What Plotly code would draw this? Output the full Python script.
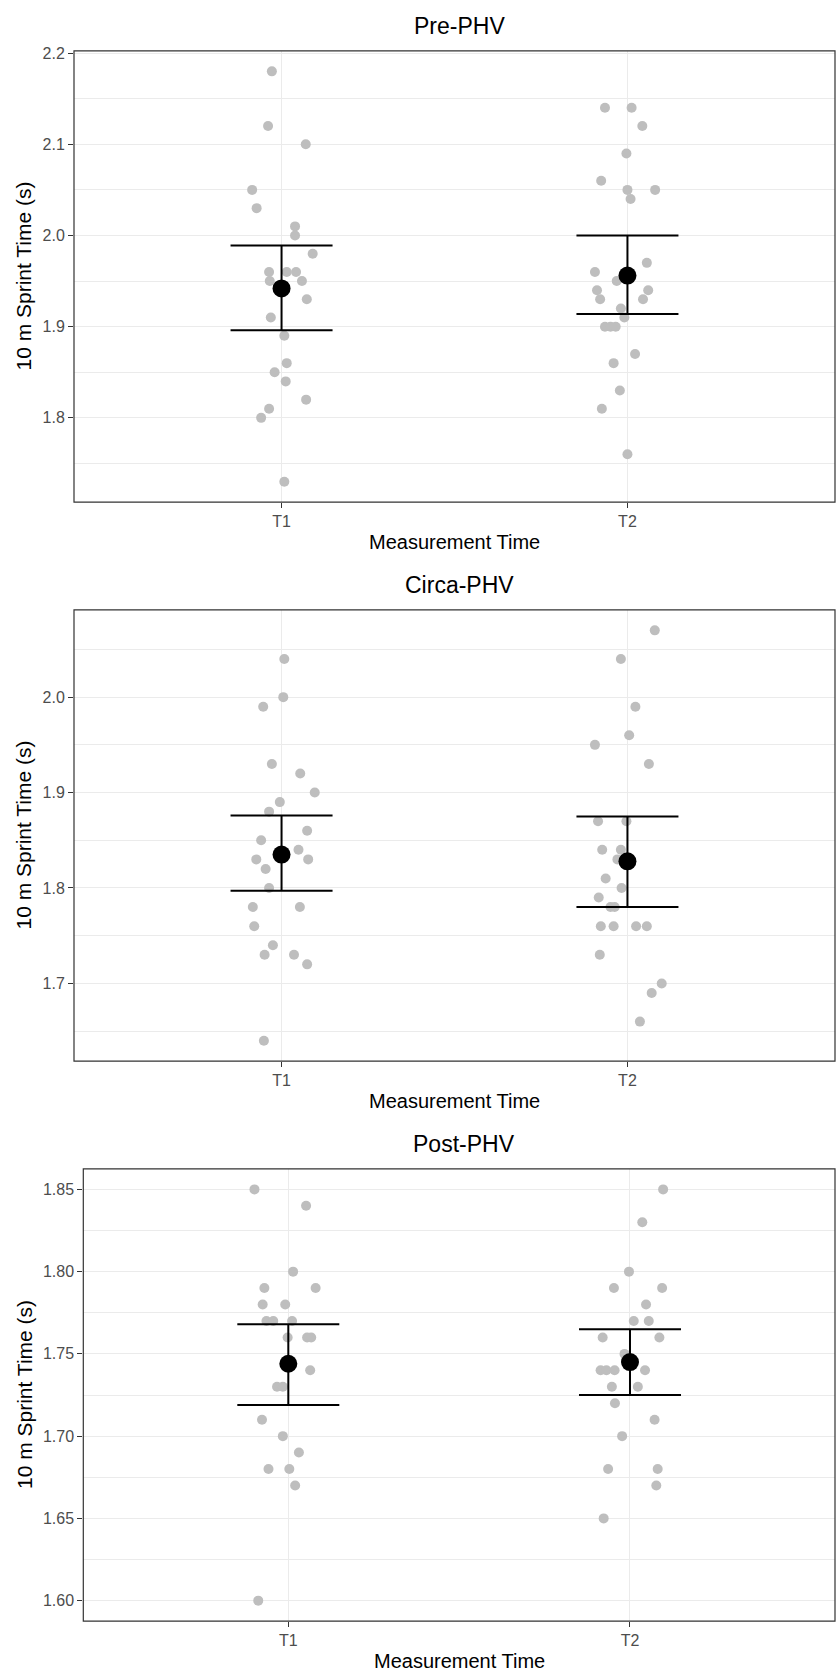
import plotly.graph_objects as go

# ---------------- data ----------------
categories = ["T1", "T2"]
panel_titles = ["Pre-PHV", "Circa-PHV", "Post-PHV"]

pre_t1 = [2.18, 2.12, 2.10, 2.05, 2.03, 2.01, 2.00, 1.98, 1.96, 1.96, 1.96, 1.95, 1.95,
          1.93, 1.91, 1.89, 1.86, 1.85, 1.84, 1.82, 1.81, 1.80, 1.73]
pre_t1_jit = [-0.028, -0.039, 0.070, -0.085, -0.072, 0.039, 0.039, 0.090, -0.036, 0.015, 0.042,
              -0.034, 0.059, 0.073, -0.031, 0.008, 0.015, -0.020, 0.012, 0.071, -0.036, -0.059, 0.008]
pre_t2 = [2.14, 2.14, 2.12, 2.09, 2.06, 2.05, 2.05, 2.04, 1.97, 1.96, 1.95, 1.94, 1.94, 1.93,
          1.93, 1.92, 1.91, 1.90, 1.90, 1.90, 1.87, 1.86, 1.83, 1.81, 1.76]
pre_t2_jit = [-0.065, 0.012, 0.043, -0.003, -0.076, 0.000, 0.080, 0.009, 0.056, -0.094, -0.031,
              -0.088, 0.060, -0.079, 0.045, -0.019, -0.009, -0.065, -0.049, -0.034, 0.022,
              -0.040, -0.022, -0.074, 0.000]

circa_t1 = [2.04, 2.00, 1.99, 1.93, 1.92, 1.90, 1.89, 1.88, 1.86, 1.85, 1.84, 1.83, 1.83, 1.82,
            1.80, 1.78, 1.78, 1.76, 1.74, 1.73, 1.73, 1.72, 1.64]
circa_t1_jit = [0.008, 0.005, -0.053, -0.028, 0.054, 0.096, -0.005, -0.036, 0.074, -0.059, 0.049,
                -0.073, 0.077, -0.046, -0.036, -0.083, 0.053, -0.079, -0.025, -0.049, 0.036,
                0.074, -0.051]
circa_t2 = [2.07, 2.04, 1.99, 1.96, 1.95, 1.93, 1.87, 1.87, 1.84, 1.84, 1.83, 1.81, 1.80, 1.79,
            1.78, 1.78, 1.76, 1.76, 1.76, 1.76, 1.73, 1.70, 1.69, 1.66]
circa_t2_jit = [0.079, -0.019, 0.023, 0.005, -0.094, 0.062, -0.085, -0.003, -0.073, -0.019, -0.029,
                -0.063, -0.017, -0.083, -0.049, -0.037, -0.077, -0.040, 0.025, 0.056, -0.080,
                0.099, 0.070, 0.036]

post_t1 = [1.85, 1.84, 1.80, 1.79, 1.79, 1.78, 1.78, 1.77, 1.77, 1.77, 1.76, 1.76, 1.76, 1.74,
           1.73, 1.73, 1.71, 1.70, 1.69, 1.68, 1.68, 1.67, 1.60]
post_t1_jit = [-0.099, 0.052, 0.014, -0.070, 0.080, -0.075, -0.009, -0.064, -0.044, 0.011, -0.002,
               0.055, 0.067, 0.064, -0.033, -0.016, -0.077, -0.016, 0.031, -0.058, 0.003, 0.020,
               -0.088]
post_t2 = [1.85, 1.83, 1.80, 1.79, 1.79, 1.78, 1.77, 1.77, 1.76, 1.76, 1.75, 1.74, 1.74, 1.74,
           1.74, 1.73, 1.73, 1.72, 1.71, 1.70, 1.68, 1.68, 1.67, 1.65]
post_t2_jit = [0.097, 0.036, -0.003, -0.047, 0.094, 0.047, 0.011, 0.055, -0.080, 0.086, -0.016,
               -0.086, -0.069, -0.045, 0.044, -0.053, 0.023, -0.044, 0.072, -0.023, -0.064,
               0.081, 0.077, -0.077]

pre_mean = [1.942, 1.956]
pre_lower = [1.896, 1.914]
pre_upper = [1.989, 2.000]
circa_mean = [1.835, 1.828]
circa_lower = [1.797, 1.780]
circa_upper = [1.876, 1.875]
post_mean = [1.744, 1.745]
post_lower = [1.719, 1.725]
post_upper = [1.768, 1.765]

pre_ticks = [1.8, 1.9, 2.0, 2.1, 2.2]
circa_ticks = [1.7, 1.8, 1.9, 2.0]
post_ticks = [1.60, 1.65, 1.70, 1.75, 1.80, 1.85]

# ---------------- layout helpers ----------------
W, H = 840, 1675
FONT = "Liberation Sans, Arial, sans-serif"

panels = [
    dict(t1=pre_t1, j1=pre_t1_jit, t2=pre_t2, j2=pre_t2_jit, mean=pre_mean, lo=pre_lower,
         hi=pre_upper, ticks=pre_ticks, fmt=".1f", minor=0.05,
         box=(74, 835, 45, 498), title_y=20, xt_y=538),
    dict(t1=circa_t1, j1=circa_t1_jit, t2=circa_t2, j2=circa_t2_jit, mean=circa_mean,
         lo=circa_lower, hi=circa_upper, ticks=circa_ticks, fmt=".1f", minor=0.05,
         box=(74, 835, 606, 1059), title_y=581, xt_y=1099),
    dict(t1=post_t1, j1=post_t1_jit, t2=post_t2, j2=post_t2_jit, mean=post_mean,
         lo=post_lower, hi=post_upper, ticks=post_ticks, fmt=".2f", minor=0.025,
         box=(83.3, 835, 1167, 1621), title_y=1142, xt_y=1661),
]

fig = go.Figure()
annotations = []
shapes = []
layout_axes = {}

for i, p in enumerate(panels):
    n = "" if i == 0 else str(i + 1)
    xa, ya = "x" + n, "y" + n
    x0, x1, y0, y1 = p["box"]

    allv = p["t1"] + p["t2"]
    vmin, vmax = min(allv), max(allv)
    pad = (vmax - vmin) * 0.05
    yr = [vmin - pad, vmax + pad]

    # jittered raw points
    xs = [1 + j for j in p["j1"]] + [2 + j for j in p["j2"]]
    fig.add_trace(go.Scatter(
        x=xs, y=allv, mode="markers", xaxis=xa, yaxis=ya,
        marker=dict(size=10, color="#bebebe"), showlegend=False, hoverinfo="y"))

    # mean with error bars
    fig.add_trace(go.Scatter(
        x=[1, 2], y=p["mean"], mode="markers", xaxis=xa, yaxis=ya,
        marker=dict(size=18, color="black"),
        error_y=dict(type="data", symmetric=False,
                     array=[h - m for h, m in zip(p["hi"], p["mean"])],
                     arrayminus=[m - l for m, l in zip(p["mean"], p["lo"])],
                     color="black", thickness=2, width=51),
        showlegend=False))

    dom_x = [x0 / W, x1 / W]
    dom_y = [1 - y1 / H, 1 - y0 / H]
    layout_axes["xaxis" + n] = dict(
        domain=dom_x, range=[0.4, 2.6], anchor=ya,
        tickmode="array", tickvals=[1, 2], ticktext=categories,
        showgrid=True, gridcolor="#ebebeb", gridwidth=1.3, zeroline=False,
        showline=False,
        ticks="outside", ticklen=5, tickwidth=1.2, tickcolor="#333333",
        tickfont=dict(family=FONT, size=16, color="#4d4d4d"))
    layout_axes["yaxis" + n] = dict(
        domain=dom_y, range=yr, anchor=xa,
        tickmode="array", tickvals=p["ticks"], tickformat=p["fmt"],
        showgrid=True, gridcolor="#ebebeb", gridwidth=1.3, zeroline=False,
        minor=dict(dtick=p["minor"], tick0=p["ticks"][0], showgrid=True,
                   gridcolor="#ebebeb", gridwidth=1, ticks=""),
        showline=False,
        ticks="outside", ticklen=5, tickwidth=1.2, tickcolor="#333333",
        tickfont=dict(family=FONT, size=16, color="#4d4d4d"))

    # panel border
    shapes.append(dict(type="rect", xref=xa + " domain", yref=ya + " domain",
                       x0=0, x1=1, y0=0, y1=1, line=dict(color="#333333", width=1.2),
                       fillcolor="rgba(0,0,0,0)", layer="above"))

    cx = (x0 + x1) / 2
    annotations.append(dict(text=panel_titles[i], x=(cx + 5) / W, y=1 - p["title_y"] / H,
                            xref="paper", yref="paper", showarrow=False,
                            xanchor="center", yanchor="middle",
                            font=dict(family=FONT, size=23, color="black")))
    annotations.append(dict(text="Measurement Time", x=cx / W, y=1 - p["xt_y"] / H,
                            xref="paper", yref="paper", showarrow=False,
                            xanchor="center", yanchor="middle",
                            font=dict(family=FONT, size=20, color="black")))
    annotations.append(dict(text="10 m Sprint Time (s)", x=24 / W, y=1 - (y0 + y1) / 2 / H,
                            xref="paper", yref="paper", showarrow=False, textangle=-90,
                            xanchor="center", yanchor="middle",
                            font=dict(family=FONT, size=21, color="black")))

fig.update_layout(
    width=W, height=H, margin=dict(l=0, r=0, t=0, b=0),
    paper_bgcolor="white", plot_bgcolor="white",
    annotations=annotations, shapes=shapes, **layout_axes)

fig.write_html("out.html",
               config={"displayModeBar": False},
               post_script="document.body.style.margin='0';document.body.style.overflow='hidden';")
